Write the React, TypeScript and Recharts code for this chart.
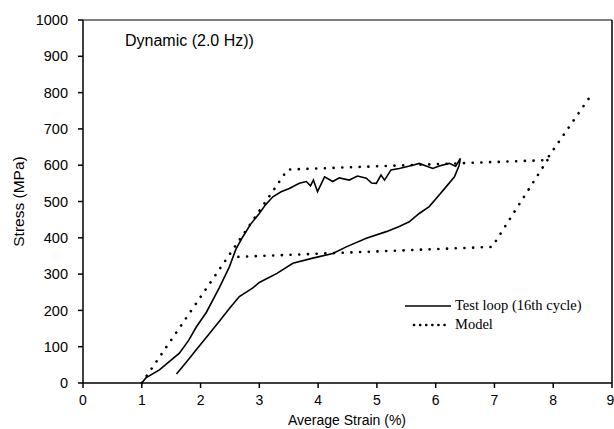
import React from "react"
import { LineChart, Line, XAxis, YAxis, ReferenceLine } from "recharts"

// test loop, loading branch then unloading branch (strain %, stress MPa)
const testStrain = [
  1.0, 1.07, 1.3, 1.64, 1.8, 1.93, 2.1, 2.32, 2.49, 2.6, 2.72, 2.85, 3.0, 3.1, 3.23, 3.37, 3.51, 3.68, 3.8,
  3.87, 3.92, 3.99, 4.11, 4.25, 4.36, 4.53, 4.67, 4.82, 4.91, 4.99, 5.07, 5.13, 5.24, 5.38, 5.61, 5.72, 5.95,
  6.06, 6.23, 6.34, 6.42,
  6.4, 6.32, 6.18, 6.06, 5.89, 5.72, 5.55, 5.38, 5.16, 4.82, 4.48, 4.25, 3.91, 3.57, 3.3, 3.0, 2.89, 2.66,
  2.48, 2.32, 2.1, 1.93, 1.75, 1.59,
]
const testStress = [
  0, 14, 36, 82, 118, 155, 195, 263, 320, 368, 403, 437, 467, 490, 513, 527, 536, 550, 555,
  543, 559, 527, 568, 555, 565, 559, 570, 564, 551, 550, 573, 559, 587, 591, 600, 605, 591,
  598, 605, 597, 619,
  600, 568, 541, 518, 486, 467, 444, 431, 417, 399, 375, 357, 344, 330, 302, 277, 262, 238,
  203, 170, 126, 92, 56, 25,
]

const modelLoadStrain = [1.0, 3.48, 7.88, 8.61]
const modelLoadStress = [0, 588, 614, 785]
const modelUnloadStrain = [7.9, 6.96, 2.55]
const modelUnloadStress = [614, 375, 347]

const xTicks = [0, 1, 2, 3, 4, 5, 6, 7, 8, 9]
const yTicks = [0, 100, 200, 300, 400, 500, 600, 700, 800, 900, 1000]

const zip = (xs: number[], ys: number[]) => xs.map((x, i) => ({ x, y: ys[i] }))

const testData = zip(testStrain, testStress)
const modelLoad = zip(modelLoadStrain, modelLoadStress)
const modelUnload = zip(modelUnloadStrain, modelUnloadStress)

const font = "Liberation Sans, Arial, sans-serif"
const tickStyle = { fontSize: 14.5, fill: "#000", fontFamily: font }
const xTickStyle = { fontSize: 14, fill: "#000", fontFamily: font }
const yTitleStyle = { fontSize: 15.5, fill: "#000", fontFamily: font, textAnchor: "middle" }

export default function App() {
  return (
    <div style={{ position: "absolute", left: 0, top: 0, width: 614, height: 429, background: "#fff" }}>
      <LineChart width={614} height={429} margin={{ top: 20, right: 2, left: 0, bottom: 0 }}>
        <XAxis
          type="number"
          dataKey="x"
          domain={[0, 9]}
          ticks={xTicks}
          allowDataOverflow
          height={46}
          tick={xTickStyle}
          tickSize={5}
          tickMargin={7}
          axisLine={{ stroke: "#000", strokeWidth: 1.5 }}
          tickLine={{ stroke: "#000", strokeWidth: 1.5 }}
        />
        <YAxis
          type="number"
          dataKey="y"
          domain={[0, 1000]}
          ticks={yTicks}
          width={83}
          tick={tickStyle}
          tickSize={5}
          tickMargin={10}
          axisLine={{ stroke: "#000", strokeWidth: 1.5 }}
          tickLine={{ stroke: "#000", strokeWidth: 1.5 }}
          label={{ value: "Stress (MPa)", angle: -90, position: "insideLeft", offset: 18, style: yTitleStyle }}
        />
        <ReferenceLine y={1000} stroke="#000" strokeWidth={1} />
        <ReferenceLine x={9} stroke="#000" strokeWidth={1.5} />
        <Line data={modelLoad} dataKey="y" stroke="#000" strokeWidth={2.6} strokeDasharray="0.1 8.6" strokeLinecap="round" dot={false} isAnimationActive={false} />
        <Line data={modelUnload} dataKey="y" stroke="#000" strokeWidth={2.6} strokeDasharray="0.1 8.6" strokeLinecap="round" dot={false} isAnimationActive={false} />
        <Line data={testData} dataKey="y" stroke="#000" strokeWidth={1.6} dot={false} isAnimationActive={false} />
      </LineChart>
      <div style={{ position: "absolute", left: 247, width: 200, top: 412, textAlign: "center", fontSize: 14, lineHeight: "16px", fontFamily: font }}>
        Average Strain (%)
      </div>
      <div style={{ position: "absolute", left: 125, top: 32, fontSize: 16, fontFamily: font }}>
        Dynamic (2.0 Hz))
      </div>
      <div style={{ position: "absolute", left: 404, top: 296, fontFamily: "Liberation Serif, serif", fontSize: 14.5, lineHeight: "19px" }}>
        <div style={{ display: "flex", alignItems: "center" }}>
          <svg width={51} height={19}>
            <line x1={1} y1={10} x2={47} y2={10} stroke="#000" strokeWidth={1.6} />
          </svg>
          <span>Test loop (16th cycle)</span>
        </div>
        <div style={{ display: "flex", alignItems: "center" }}>
          <svg width={51} height={19}>
            <line x1={10} y1={10} x2={46} y2={10} stroke="#000" strokeWidth={2.6} strokeDasharray="0.1 6" strokeLinecap="round" />
          </svg>
          <span>Model</span>
        </div>
      </div>
    </div>
  )
}
